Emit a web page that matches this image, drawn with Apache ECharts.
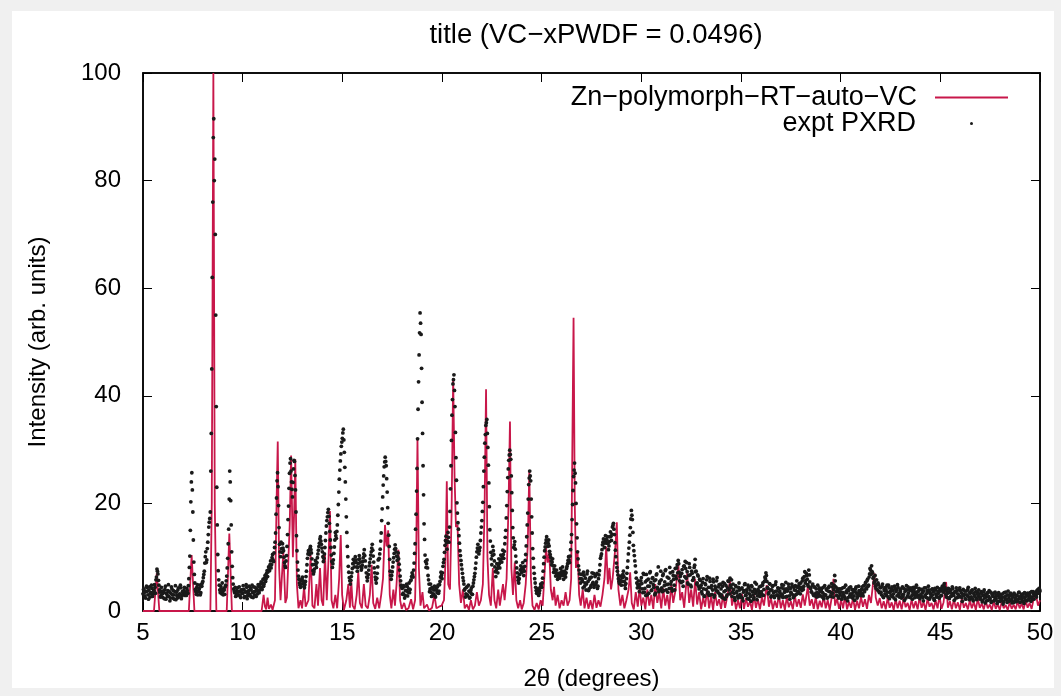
<!DOCTYPE html>
<html>
<head>
<meta charset="utf-8">
<script src="https://cdn.jsdelivr.net/npm/echarts@6/dist/echarts.min.js"></script>
<style>
html,body{margin:0;padding:0;background:#f0f0f0;}
#frame{position:absolute;left:12px;top:11px;width:1042px;height:677px;background:#fff;}
#chart{position:absolute;left:0;top:0;width:1061px;height:696px;}
</style>
</head>
<body>
<div id="frame"></div>
<div id="chart"></div>
<script>
// ---- data ----
const titleText = 'title (VC\u2212xPWDF = 0.0496)';
const simName = 'Zn\u2212polymorph\u2212RT\u2212auto\u2212VC';
const exptName = 'expt PXRD';
const xTicks = [5, 10, 15, 20, 25, 30, 35, 40, 45, 50];
const yTicks = [0, 20, 40, 60, 80, 100];

// simulated pattern: [2theta, intensity]
const simPoints = [
[5.0,0],[5.55,0],[5.69,7.0],[5.82,0],[7.30,0],[7.44,10.4],[7.58,0],[8.38,0],[8.45,20],[8.53,100],[8.60,20],[8.68,0],
[9.20,0],[9.33,14.4],[9.46,0],[10.95,0],[11.05,3.0],[11.12,0.8],[11.18,0.3],[11.25,2.5],[11.32,0.4],[11.42,1.2],[11.50,0.2],
[11.62,2],[11.70,20],[11.76,31.5],[11.83,8],[11.90,2],[12.04,11],[12.14,1.5],[12.22,2.5],[12.36,16],[12.43,28.9],[12.52,10],
[12.58,18],[12.64,28.2],[12.72,5],[12.80,0.5],[12.90,2],[12.98,0.5],[13.08,4.5],[13.16,0.8],[13.30,2],[13.41,10.4],[13.50,1],
[13.60,0.5],[13.70,5],[13.78,1],[13.88,8],[13.96,2],[14.04,1],[14.13,10.4],[14.22,2],[14.31,10],[14.38,18.6],[14.46,2],
[14.55,0.5],[14.65,3],[14.74,0.5],[14.84,6],[14.92,14.1],[14.99,3],[15.08,0.2],[15.20,2],[15.30,5],[15.38,0.6],[15.45,5.5],
[15.52,1],[15.62,0.3],[15.72,3],[15.80,7.3],[15.88,1.5],[15.98,0.5],[16.08,5],[16.17,1],[16.28,0.5],[16.38,3],[16.47,8.6],
[16.55,1.5],[16.65,0.4],[16.75,2.5],[16.85,0.5],[16.95,3],[17.04,6],[17.14,16],[17.22,12],[17.30,15],[17.38,3],[17.46,0.5],
[17.56,4],[17.64,1],[17.72,5],[17.81,11.4],[17.90,2],[17.98,0.4],[18.10,1.5],[18.20,0.2],[18.32,0.5],[18.45,2.2],[18.55,0.3],
[18.65,2],[18.71,12],[18.77,31.9],[18.84,8],[18.92,1],[19.02,3.5],[19.10,0.5],[19.25,1.2],[19.35,0.1],[19.50,0.6],[19.62,3],
[19.72,0.5],[19.85,0.8],[19.98,1],[20.10,2],[20.18,10],[20.24,24.1],[20.31,5],[20.40,4],[20.48,18],[20.56,43.3],[20.63,25],
[20.70,15.6],[20.78,16],[20.86,5],[20.95,1.5],[21.05,4],[21.14,0.5],[21.25,1.2],[21.35,0.2],[21.45,2],[21.55,0.3],[21.65,1],
[21.75,3.5],[21.85,1],[21.95,2],[22.05,5],[22.14,20],[22.21,41.2],[22.28,10],[22.36,3],[22.45,1],[22.55,8],[22.63,2],
[22.72,0.5],[22.82,4],[22.90,1],[22.98,3],[23.06,5],[23.14,2],[23.24,6],[23.34,20],[23.41,35.2],[23.48,8],[23.56,3],
[23.65,9],[23.73,2],[23.82,0.5],[23.92,2],[24.00,0.3],[24.10,1.5],[24.20,5],[24.30,12],[24.38,26],[24.46,6],[24.54,1],
[24.64,0.2],[24.75,1.5],[24.85,0.3],[24.95,2],[25.05,1],[25.13,6],[25.22,11.7],[25.30,9],[25.38,11],[25.46,4],[25.55,2],
[25.62,4.5],[25.70,1],[25.80,3],[25.90,0.5],[26.00,2],[26.10,1],[26.20,3.5],[26.30,1],[26.40,2],[26.48,6],[26.55,35],
[26.60,54.5],[26.66,20],[26.72,8],[26.80,11],[26.88,3],[26.96,1],[27.06,4],[27.15,0.5],[27.25,2.5],[27.35,0.4],[27.45,2],
[27.55,0.3],[27.65,3],[27.75,0.6],[27.85,2],[27.95,0.8],[28.05,3],[28.15,6],[28.24,12],[28.32,5],[28.40,8],[28.48,4],
[28.56,6],[28.70,12],[28.77,16.5],[28.85,4],[28.95,1],[29.05,3],[29.15,0.5],[29.25,2],[29.36,4],[29.44,7.2],[29.52,1.5],
[29.62,0.3],[29.72,3.5],[29.82,0.8],[29.92,4.5],[30.00,1],[30.10,2.5],[30.20,0.3],[30.30,4],[30.40,1],[30.50,3],[30.60,0.4],
[30.70,5],[30.80,1.5],[30.90,3.5],[31.00,0.5],[31.10,4.2],[31.20,1],[31.30,3],[31.40,0.3],[31.50,5],[31.60,1.5],[31.72,4],
[31.86,8.6],[31.95,2],[32.05,3.5],[32.15,0.6],[32.30,7],[32.40,1.5],[32.50,4],[32.60,0.8],[32.70,6],[32.80,1.2],[32.90,3.5],
[33.00,0.3],[33.10,2.5],[33.20,0.8],[33.30,4],[33.40,0.5],[33.50,2.8],[33.60,0.2],[33.70,3.5],[33.80,1],[33.90,2.2],[34.00,0.4],
[34.10,3],[34.20,0.6],[34.30,2.5],[34.45,5.6],[34.55,1],[34.65,2.8],[34.75,0.3],[34.85,2],[34.95,0.5],[35.05,3.2],[35.15,0.4],
[35.25,2.4],[35.35,0.8],[35.45,1.8],[35.55,0.2],[35.65,3],[35.75,0.6],[35.85,2.2],[35.95,0.3],[36.05,2.6],[36.15,1],[36.29,4.8],
[36.40,0.8],[36.50,2.5],[36.60,0.3],[36.70,1.9],[36.80,0.6],[36.90,3],[37.00,0.5],[37.10,2],[37.20,0.2],[37.30,2.6],[37.40,0.7],
[37.50,1.8],[37.60,0.3],[37.70,2.9],[37.80,0.8],[37.90,2.2],[38.00,0.6],[38.10,3.1],[38.20,1],[38.35,4.5],[38.45,1],[38.55,2.2],
[38.65,0.4],[38.75,2.6],[38.85,0.3],[38.95,1.9],[39.05,0.7],[39.15,2.8],[39.25,0.5],[39.35,2],[39.45,0.2],[39.55,2.5],[39.64,6],
[39.72,1],[39.82,2.3],[39.92,0.4],[40.02,2],[40.12,0.5],[40.22,2.8],[40.32,0.3],[40.42,1.7],[40.52,0.6],[40.62,2.4],[40.72,0.2],
[40.82,1.9],[40.92,0.5],[41.02,2.6],[41.12,0.8],[41.22,2.2],[41.32,0.4],[41.42,3],[41.52,1.5],[41.62,5],[41.69,7],[41.76,2.5],
[41.86,1],[41.96,2.4],[42.06,0.5],[42.16,1.8],[42.26,0.3],[42.36,2.5],[42.46,0.6],[42.56,1.6],[42.66,0.2],[42.76,2.2],[42.86,0.5],
[42.96,1.9],[43.06,0.3],[43.16,2.4],[43.26,0.7],[43.36,1.5],[43.46,0.2],[43.56,2.1],[43.66,0.5],[43.76,1.8],[43.86,0.3],[43.96,2.6],
[44.06,0.6],[44.16,1.7],[44.26,0.2],[44.36,2.3],[44.46,0.8],[44.56,1.5],[44.66,0.3],[44.76,2],[44.86,0.5],[44.96,2.8],[45.06,0.4],
[45.16,1.6],[45.29,5.4],[45.38,0.6],[45.48,1.8],[45.58,0.3],[45.68,2.2],[45.78,0.5],[45.88,1.6],[45.98,0.2],[46.08,2.4],[46.18,0.6],
[46.28,1.5],[46.38,0.3],[46.48,2],[46.58,0.5],[46.68,1.7],[46.78,0.2],[46.88,2.3],[46.98,0.6],[47.08,1.4],[47.18,0.3],[47.28,1.9],
[47.38,0.5],[47.48,1.2],[47.58,0.2],[47.68,1.8],[47.78,0.4],[47.88,1.3],[47.98,0.2],[48.08,1.7],[48.18,0.5],[48.28,1.1],[48.38,0.2],
[48.48,1.6],[48.58,0.4],[48.68,1.2],[48.78,0.3],[48.88,1.8],[48.98,0.5],[49.08,1.4],[49.18,0.3],[49.28,2],[49.38,0.6],[49.48,1.5],
[49.58,0.4],[49.68,2.2],[49.80,3],[49.90,1],[50.0,2]
];

// experimental pattern, set A: intensities from 5.00 to 50.00 deg, every 0.05 deg
const exptStartA = 5;
const exptStep = 0.05;
const exptA = [
3.2,4.1,2.8,3.6,4.4,3.0,3.9,2.6,3.4,4.2,3.1,3.8,4.4,5.8,7.8,6.9,4.8,3.5,2.9,3.7,
2.5,3.4,4.0,2.2,3.1,3.8,2.7,1.9,3.3,4.1,2.4,3.0,3.6,2.1,2.9,3.9,2.6,3.2,4.3,2.8,
3.1,3.8,2.9,3.5,4.2,3.3,6.0,10.2,20.3,25.7,18.4,9.1,5.2,3.6,4.4,3.0,3.9,4.8,3.4,4.6,
5.5,6.8,8.9,11.0,9.5,12.8,15.6,17.2,26.0,45.0,76.0,91.5,84.0,55.0,23.0,10.5,5.8,3.9,4.6,3.2,
3.6,4.2,3.1,4.8,6.5,9.8,15.2,26.0,20.5,11.0,6.2,4.1,3.4,2.7,3.8,4.3,3.0,3.6,2.5,3.9,
3.3,4.0,2.7,3.5,4.4,2.9,3.8,3.1,4.2,2.6,3.4,4.5,3.0,3.7,4.1,3.2,4.6,3.9,5.0,4.3,
5.2,4.6,6.1,5.5,7.0,6.4,8.2,7.5,9.3,8.6,10.5,9.2,11.8,14.5,21.0,25.7,19.6,12.4,10.1,11.6,
12.5,11.2,9.0,8.1,10.3,14.2,19.5,25.6,28.3,24.0,21.2,26.4,27.8,22.5,14.0,9.1,6.5,5.2,4.4,5.6,
6.3,5.1,4.3,5.5,7.4,9.8,11.2,10.5,12.0,10.8,8.6,6.9,7.8,9.4,8.1,9.9,11.3,12.6,13.8,12.4,
11.0,9.2,10.6,13.1,15.8,17.5,18.9,16.3,13.2,10.4,8.1,9.5,11.9,14.6,13.5,16.0,19.8,24.5,27.9,30.6,
32.1,33.8,29.5,24.0,17.5,12.0,8.3,6.2,5.0,6.4,7.9,9.6,8.2,10.1,9.0,7.4,8.8,10.3,9.1,7.6,
8.5,9.9,11.4,9.3,7.1,5.6,6.8,8.4,9.7,11.0,12.4,10.2,8.0,6.3,5.2,7.0,9.5,9.8,11.5,14.5,
19.0,23.4,26.8,28.6,27.0,22.1,16.3,12.0,7.4,5.9,7.3,9.1,10.7,12.3,11.0,9.4,10.8,8.7,6.5,4.8,
4.2,3.3,4.5,2.9,3.8,4.6,3.5,5.2,4.0,5.8,7.1,6.3,8.9,12.5,18.0,26.5,37.5,47.6,55.4,51.4,
38.8,27.0,16.2,10.4,8.1,9.5,6.6,5.0,4.1,3.5,4.4,3.0,3.9,2.8,4.3,3.4,4.8,3.7,5.5,7.2,
6.0,8.3,9.6,12.2,13.9,11.5,14.6,12.8,18.5,27.0,36.4,42.2,43.9,38.0,28.5,20.1,16.4,14.0,11.2,9.4,
7.8,6.2,5.0,4.1,3.2,4.5,2.8,3.7,2.5,3.9,3.1,4.6,5.8,7.0,8.9,11.0,12.4,10.6,11.8,14.5,
16.8,20.2,26.0,31.2,34.5,35.6,30.4,23.8,15.1,10.9,8.6,12.0,10.5,8.2,6.4,8.8,7.1,9.7,8.0,10.4,
9.1,11.3,9.8,12.5,15.0,19.6,24.8,28.0,29.9,28.2,22.0,15.5,11.8,12.9,10.2,8.0,6.3,5.2,6.8,8.4,
7.2,9.0,6.6,8.3,10.5,13.8,18.2,23.5,26.0,24.2,17.5,11.6,8.1,6.0,4.4,3.3,4.1,2.9,3.8,5.0,
4.4,6.1,8.8,11.2,12.6,13.8,12.0,13.2,11.1,10.0,8.6,9.7,7.2,8.4,6.5,7.6,5.9,7.0,6.1,7.9,
6.6,8.2,5.9,7.4,6.3,7.9,8.8,10.1,9.0,11.4,14.2,19.8,25.0,27.5,23.8,16.2,11.0,8.4,6.9,5.2,
6.8,5.5,7.2,4.6,6.1,5.0,7.4,3.8,5.9,4.4,6.3,5.1,7.0,4.8,6.6,5.4,4.2,6.0,7.5,9.8,
10.6,12.3,13.4,11.8,14.0,12.6,13.8,11.4,12.9,14.7,13.1,15.6,16.3,14.2,11.3,8.9,7.4,6.0,5.1,6.5,
4.8,6.2,7.4,5.5,4.2,6.0,8.1,10.6,12.8,15.5,18.7,17.0,12.2,10.3,8.4,6.1,4.3,5.6,3.6,5.0,
6.2,4.1,7.0,3.5,5.4,6.8,3.0,5.9,4.6,7.3,3.8,6.1,4.9,5.6,3.3,6.7,4.4,8.2,5.1,3.9,
5.8,3.6,6.9,4.7,7.5,3.9,6.3,5.0,4.2,7.1,5.5,3.7,6.6,4.8,7.9,6.0,8.6,9.4,7.2,6.4,
5.3,7.7,4.6,8.4,9.2,6.1,7.3,5.0,8.8,6.7,4.5,7.0,5.8,8.1,9.6,7.4,5.2,6.5,4.1,5.7,
4.8,3.2,6.0,2.7,5.1,4.0,6.4,3.5,2.9,5.5,4.3,3.1,5.9,2.6,4.6,3.8,6.2,3.4,4.9,2.8,
4.1,2.5,5.3,3.6,2.2,4.7,3.0,5.6,3.9,6.1,4.4,2.7,5.0,3.3,2.0,4.5,3.7,2.4,5.2,3.1,
2.6,4.3,1.9,3.8,5.1,2.9,3.4,4.8,2.2,3.9,1.8,4.5,3.0,2.5,5.3,3.6,2.1,4.0,3.3,2.7,
4.6,3.1,5.2,4.0,6.3,7.1,5.5,4.2,3.4,5.0,2.6,3.9,4.7,2.8,3.6,5.4,3.0,4.3,2.4,3.7,
3.2,4.9,2.5,4.1,3.6,5.3,2.7,3.9,4.5,2.2,3.5,5.0,3.0,4.4,2.9,3.8,5.6,3.3,4.7,4.1,
5.2,3.8,6.1,4.6,7.3,5.7,6.6,4.9,7.6,5.4,4.2,3.5,5.0,2.9,4.4,3.3,2.6,4.8,3.1,3.9,
2.8,4.2,3.4,2.3,4.7,3.0,3.9,2.5,4.4,3.6,2.7,5.1,3.3,4.0,6.6,4.5,2.9,3.7,2.4,4.1,
3.5,2.2,4.3,3.0,2.6,4.8,3.4,1.9,3.8,2.8,4.5,3.1,2.4,3.9,2.0,4.2,3.3,2.7,4.6,3.6,
2.9,4.0,3.2,4.7,3.6,5.3,4.1,5.9,4.8,6.9,7.6,8.4,7.1,6.3,5.5,4.6,5.8,3.9,4.9,3.4,
4.3,3.0,5.0,2.5,3.8,4.4,2.9,3.5,4.8,2.3,3.7,4.1,2.7,3.2,4.6,2.1,3.9,4.9,3.0,2.6,
3.6,2.4,4.5,3.1,2.0,3.9,4.7,2.8,3.3,4.2,2.5,3.8,2.2,4.4,3.0,3.5,4.8,2.6,3.7,2.9,
4.0,2.7,3.4,1.9,4.3,3.0,2.5,3.8,4.6,2.2,3.2,2.8,4.1,3.6,2.0,3.9,2.6,4.4,3.3,2.4,
3.7,2.9,4.6,3.5,5.1,4.0,2.6,3.3,4.2,2.3,3.8,2.8,4.5,3.1,2.0,3.6,4.3,2.5,3.0,3.9,
2.7,3.4,1.8,4.0,3.1,2.3,3.7,2.9,4.4,2.1,3.3,2.6,3.9,1.9,3.0,4.2,2.4,3.5,2.8,3.2,
2.2,3.6,1.7,2.9,3.9,1.5,2.6,3.3,2.0,3.8,2.4,1.6,3.1,2.7,1.9,3.5,2.3,1.4,2.8,3.2,
1.8,3.0,2.5,1.3,3.4,2.1,2.8,1.6,3.7,2.4,1.9,3.1,1.5,2.6,3.3,2.0,1.7,2.9,2.2,3.5,
1.6,2.7,2.1,3.2,1.4,2.5,3.0,1.9,2.8,2.3,3.4,1.8,2.6,3.6,2.2,3.1,2.9,3.8,3.3,4.2,
3.7
];

// experimental pattern, set B: intensities from 5.025 to 49.975 deg, every 0.05 deg
const exptStartB = 5.025;
const exptB = [
4.0,3.5,2.4,4.6,3.7,2.2,4.5,3.3,4.8,2.7,3.6,4.9,3.3,6.3,7.4,5.7,3.9,2.6,4.4,3.2,
3.7,2.3,4.6,3.3,2.7,4.9,3.6,2.4,4.5,3.0,3.8,2.2,4.7,3.5,2.4,4.3,3.1,4.8,2.3,3.6,
3.6,4.4,3.2,2.9,3.8,4.7,8.1,15.0,24.0,22.5,13.2,6.8,4.0,3.1,4.9,3.6,4.2,3.0,4.9,5.2,
6.2,7.4,10.1,9.0,11.6,14.2,16.5,18.4,33.0,62.0,88.0,80.0,70.0,38.0,16.0,7.5,4.8,3.4,4.0,5.2,
3.0,3.9,4.5,5.6,8.0,12.5,20.8,24.0,16.0,8.3,5.0,3.7,4.4,3.2,2.9,3.6,4.5,2.8,3.9,3.3,
4.7,2.5,3.7,4.9,2.3,3.4,4.6,2.8,3.9,4.8,2.5,3.6,4.4,2.7,3.8,4.9,3.4,4.5,5.4,4.0,
5.9,5.0,6.6,6.0,7.5,7.3,7.8,8.6,8.0,9.9,9.5,10.8,12.8,18.0,24.2,23.1,15.5,11.0,12.8,10.9,
11.7,10.0,8.4,9.3,12.0,17.0,22.8,27.5,26.0,22.6,23.9,28.0,25.2,18.4,11.2,7.6,5.9,4.8,5.0,6.0,
5.6,4.6,4.9,6.4,8.6,10.6,10.9,11.6,11.4,9.7,7.5,7.3,8.7,8.6,9.0,10.6,12.0,13.4,13.0,11.7,
10.1,9.8,11.8,14.5,16.8,18.3,17.6,14.8,11.8,9.2,8.8,10.7,13.2,14.0,14.8,17.8,22.1,26.2,29.2,31.4,
33.1,31.8,26.7,20.8,14.6,10.1,7.2,5.6,5.7,7.1,8.8,8.9,9.2,9.5,8.2,8.1,9.6,9.7,8.3,8.0,
9.2,10.6,10.3,8.2,6.3,6.2,7.6,9.0,10.4,11.7,11.3,9.1,7.1,5.8,6.1,8.2,9.6,10.6,13.0,16.8,
21.2,25.1,27.7,27.8,24.6,19.2,14.1,9.6,6.6,6.6,8.2,9.9,11.5,11.6,10.2,10.1,9.7,7.6,5.6,4.5,
3.1,4.7,2.4,3.8,5.0,2.8,4.1,3.4,5.6,6.4,6.7,7.6,10.7,15.2,22.3,32.0,42.6,51.7,53.5,45.1,
33.0,21.6,13.3,9.2,8.8,8.0,5.8,3.6,5.0,2.7,4.1,3.2,4.6,2.6,3.9,4.5,3.3,4.9,6.3,6.6,
7.1,9.0,10.9,13.1,12.7,13.0,13.7,15.6,22.7,31.7,39.3,43.0,41.0,33.2,24.3,18.2,15.2,12.6,10.3,8.6,
7.0,5.6,3.9,2.6,4.4,3.0,4.8,2.4,3.5,4.3,3.1,5.2,6.4,7.9,10.0,11.7,11.5,11.2,13.1,15.6,
18.5,23.1,28.6,32.8,35.0,33.0,27.1,19.4,13.0,9.7,10.3,11.2,9.3,7.3,7.6,7.9,8.4,8.8,9.2,9.7,
10.2,10.5,11.1,13.7,17.3,22.2,26.4,29.0,29.1,25.1,18.7,13.6,12.3,11.5,9.1,7.1,5.7,6.0,7.6,7.8,
8.1,7.8,7.4,9.4,12.1,16.0,20.8,24.7,25.1,20.8,14.5,9.8,7.0,5.2,3.8,3.7,3.5,3.3,4.4,4.7,
5.2,7.4,10.0,11.9,13.2,12.9,12.6,12.1,10.5,9.3,9.1,8.4,7.8,7.4,7.0,6.7,6.4,6.5,7.0,7.2,
7.4,7.0,6.6,6.8,7.1,8.3,9.4,9.5,10.2,12.8,17.0,22.4,26.2,25.6,20.0,13.6,9.7,7.6,6.0,6.0,
5.9,4.3,6.6,5.2,3.9,6.9,5.5,4.1,6.2,4.7,7.1,5.3,4.4,6.4,5.0,7.0,4.6,6.7,8.6,10.2,
11.4,12.8,12.6,12.9,13.3,13.2,12.6,12.1,13.8,13.9,14.3,15.9,15.2,12.7,10.1,8.1,6.7,5.5,5.8,5.6,
5.5,6.8,6.4,4.8,5.1,7.0,9.3,11.7,14.1,17.1,17.8,14.6,11.2,9.3,7.2,5.2,4.9,4.6,4.3,5.6,
5.1,3.4,6.8,4.2,2.9,5.7,4.6,3.3,7.1,5.3,3.9,6.2,4.4,3.0,5.8,6.9,4.1,3.6,5.5,7.4,
4.3,6.6,3.8,5.4,7.7,4.9,3.5,6.1,8.1,5.0,4.2,7.3,5.9,3.9,6.5,8.0,7.1,8.8,5.6,6.8,
7.0,5.5,8.3,6.4,7.9,9.0,5.2,6.6,8.1,4.8,7.4,5.7,6.2,8.5,7.3,5.0,6.7,4.6,5.9,4.4,
3.6,5.3,4.1,2.8,4.9,5.8,3.3,4.4,6.1,3.0,4.7,3.9,5.4,2.9,4.2,5.6,3.7,4.5,3.2,5.0,
3.0,4.6,2.4,5.1,3.8,2.7,4.3,5.5,3.2,4.8,5.8,3.5,4.0,2.5,4.7,3.4,2.8,4.4,3.9,2.6,
4.1,2.4,3.5,4.9,2.9,3.9,2.3,4.4,3.2,2.7,4.7,3.6,2.2,4.0,3.3,5.0,2.8,3.7,4.5,3.0,
3.6,4.8,2.9,5.5,6.0,6.6,4.4,3.2,5.1,3.9,2.8,4.6,3.4,2.5,4.9,3.7,2.9,4.2,3.5,2.8,
4.3,3.0,4.8,3.5,2.6,4.1,3.7,5.0,2.8,4.2,3.3,4.6,2.5,3.9,4.7,3.1,4.4,3.6,5.1,3.2,
4.4,5.6,4.0,6.4,5.2,7.0,5.9,4.6,6.7,4.3,3.6,4.7,3.1,4.5,2.8,4.1,3.4,2.7,4.3,3.6,
3.9,2.6,4.4,3.1,2.9,4.1,2.4,3.7,4.6,2.8,3.4,4.5,2.6,4.8,5.6,3.6,4.2,2.7,3.5,3.0,
4.1,2.7,3.4,4.4,2.3,3.6,3.9,2.5,4.3,3.2,2.6,4.0,3.5,2.8,3.7,4.5,2.4,3.3,3.8,2.9,
3.4,4.5,2.8,3.9,4.9,4.3,5.6,4.6,6.3,7.9,6.8,7.3,6.1,5.2,6.6,4.2,4.9,5.2,3.6,4.4,
3.5,4.6,2.7,4.1,3.2,3.9,4.8,2.6,4.3,3.4,2.9,4.5,3.8,2.4,4.2,3.6,2.8,4.4,3.3,3.9,
4.1,3.0,2.7,4.2,3.6,2.4,3.9,4.5,2.6,3.8,4.3,2.9,3.4,4.0,2.5,4.4,3.1,3.6,4.2,2.3,
3.1,4.0,2.5,3.7,2.8,4.3,3.3,2.4,3.9,3.5,2.6,4.0,3.0,2.3,4.2,3.2,2.9,3.7,2.5,4.1,
2.8,4.2,3.9,4.7,4.4,3.1,3.7,2.5,3.4,4.0,2.7,3.3,4.1,2.9,3.5,2.4,3.8,3.2,2.6,4.3,
3.8,2.5,3.1,2.9,3.7,2.2,3.0,4.0,2.6,3.5,2.4,3.8,2.2,3.3,2.7,3.6,2.1,3.1,3.9,2.5,
2.6,3.3,2.0,3.6,2.4,3.1,1.9,3.4,2.7,2.2,3.5,1.8,2.9,3.3,2.1,2.6,3.0,1.8,3.4,2.4,
2.8,2.0,3.2,1.7,2.6,3.5,2.2,3.0,1.8,2.9,3.3,2.1,2.7,1.6,3.1,2.4,2.9,1.9,3.4,2.6,
2.3,3.1,1.8,2.6,3.4,2.0,2.8,3.3,2.1,3.0,2.5,3.6,2.2,3.2,2.9,3.5,2.6,3.9,3.6,4.0
];

// ---- build chart ----
const exptPoints = exptA.map((v, i) => [+(exptStartA + i * exptStep).toFixed(3), v])
  .concat(exptB.map((v, i) => [+(exptStartB + i * exptStep).toFixed(3), v]));
const FONT = 'Liberation Sans';
const AX = '#000';

const chart = echarts.init(document.getElementById('chart'), null, {renderer: 'canvas'});
const tickStyle = {show: true, inside: true, length: 9, lineStyle: {color: AX, width: 1}};
chart.setOption({
  animation: false,
  backgroundColor: 'transparent',
  textStyle: {fontFamily: FONT},
  title: {
    text: titleText, left: 591, top: 16, textAlign: 'center',
    textStyle: {fontFamily: FONT, fontSize: 27.5, fontWeight: 'normal', color: '#000'}
  },
  grid: {left: 143, right: 21, top: 73, bottom: 83, show: true, borderColor: AX, borderWidth: 1.5, backgroundColor: 'transparent'},
  legend: [
    {
      data: [simName], right: 53, top: 84, align: 'right', orient: 'vertical', padding: 0,
      icon: 'rect', itemWidth: 73, itemHeight: 2,
      textStyle: {fontFamily: FONT, fontSize: 27, color: '#000', padding: [0, 13, 0, 0]}
    },
    {
      data: [exptName], right: 88, top: 110, align: 'right', orient: 'vertical', padding: 0,
      icon: 'circle', itemWidth: 3, itemHeight: 3,
      textStyle: {fontFamily: FONT, fontSize: 27, color: '#000', padding: [0, 49, 0, 0]}
    }
  ],
  xAxis: [
    {
      type: 'value', min: 5, max: 50, interval: 5, position: 'bottom',
      name: '2\u03b8 (degrees)', nameLocation: 'middle', nameGap: 56,
      nameTextStyle: {fontFamily: FONT, fontSize: 24, color: '#000'},
      axisLine: {show: true, onZero: false, lineStyle: {color: AX, width: 1.5}},
      axisTick: tickStyle, splitLine: {show: false},
      axisLabel: {fontFamily: FONT, fontSize: 24, color: '#000', margin: 10,
        formatter: v => xTicks.includes(v) ? String(v) : ''}
    },
    {
      type: 'value', min: 5, max: 50, interval: 5, position: 'top',
      axisLine: {show: true, onZero: false, lineStyle: {color: AX, width: 1.5}},
      axisTick: tickStyle, axisLabel: {show: false}, splitLine: {show: false}
    }
  ],
  yAxis: [
    {
      type: 'value', min: 0, max: 100, interval: 20, position: 'left',
      name: 'Intensity (arb. units)', nameLocation: 'middle', nameGap: 93,
      nameTextStyle: {fontFamily: FONT, fontSize: 24, color: '#000'},
      axisLine: {show: true, onZero: false, lineStyle: {color: AX, width: 1.5}},
      axisTick: tickStyle, splitLine: {show: false},
      axisLabel: {fontFamily: FONT, fontSize: 24, color: '#000', margin: 22,
        formatter: v => yTicks.includes(v) ? String(v) : ''}
    },
    {
      type: 'value', min: 0, max: 100, interval: 20, position: 'right',
      axisLine: {show: true, onZero: false, lineStyle: {color: AX, width: 1.5}},
      axisTick: tickStyle, axisLabel: {show: false}, splitLine: {show: false}
    }
  ],
  series: [
    {
      name: simName, type: 'line', data: simPoints, showSymbol: false, symbol: 'none',
      lineStyle: {color: '#c8174a', width: 1.8}, itemStyle: {color: '#c8174a'}, z: 2, clip: true
    },
    {
      name: exptName, type: 'scatter', data: exptPoints, symbol: 'circle', symbolSize: 3.8,
      itemStyle: {color: '#1a1a1a', opacity: 1}, z: 3, clip: true, large: false
    }
  ]
});
</script>
</body>
</html>
